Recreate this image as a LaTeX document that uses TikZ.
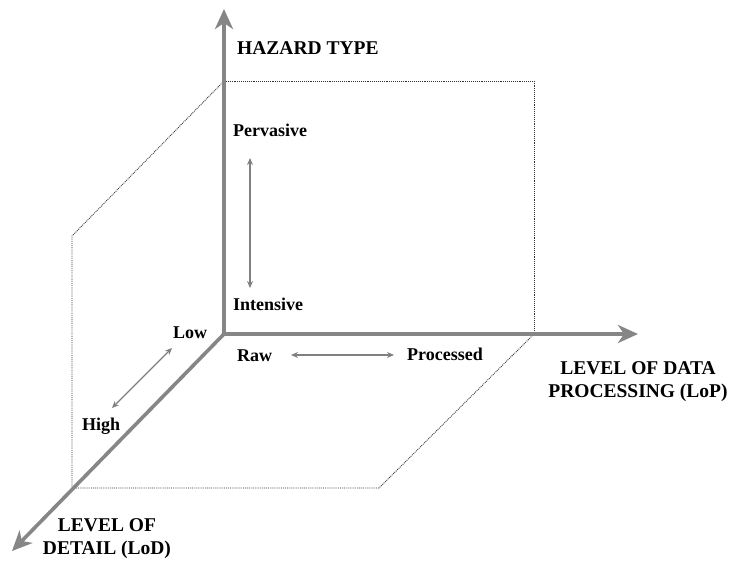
\documentclass[tikz,border=0pt]{standalone}
\usepackage{fontspec}
\setmainfont{Liberation Serif}
\usetikzlibrary{arrows.meta}
\begin{document}
\begin{tikzpicture}[x=1pt,y=-1pt,
  axis/.style={draw=gray!95, line width=3.6pt, -{Stealth[length=20pt,width=18pt,inset=6pt]}},
  guide/.style={draw=black!80, line width=0.9pt, densely dotted},
  dbl/.style={draw=gray, line width=1.1pt, {Stealth[length=7pt,width=6pt]}-{Stealth[length=7pt,width=6pt]}},
  lbl/.style={inner sep=0pt, font=\bfseries\fontsize{18}{21}\selectfont},
  ttl/.style={inner sep=0pt, align=center, font=\bfseries\fontsize{19.5}{23}\selectfont}]
\useasboundingbox (0,0) rectangle (731,565);
% axis points
\coordinate (O) at (224,334);
\coordinate (Ytip) at (224,9);
\coordinate (Xtip) at (638,334);
\coordinate (Ztip) at (12,551);
% dotted planes
\coordinate (A) at (224,81);
\coordinate (B) at (534,81);
\coordinate (C) at (534,334);
\coordinate (D) at (72,236);
\coordinate (E) at (72,488);
\coordinate (F) at (379,488);
\draw[guide] (A) -- (B) -- (C);
\draw[guide] (A) -- (D) -- (E) -- (F) -- (C);
% axes
\draw[axis] (O) -- (Ytip);
\draw[axis] (O) -- (Xtip);
\draw[axis] (O) -- (Ztip);
% labels
\node[ttl, anchor=base west] (hz) at (237,54) {HAZARD TYPE};
\node[lbl, anchor=base west] (perv) at (233,136) {Pervasive};
\node[lbl, anchor=base west] (inten) at (233,310) {Intensive};
\node[lbl, anchor=base west] (low) at (173,338) {Low};
\node[lbl, anchor=base west] (high) at (82,430) {High};
\node[lbl, anchor=base west] (raw) at (237,361) {Raw};
\node[lbl, anchor=base west] (proc) at (407,360) {Processed};
\node[ttl] (lop) at (638,382) {LEVEL OF DATA\\PROCESSING (LoP)};
\node[ttl] (lod) at (107,539) {LEVEL OF\\DETAIL (LoD)};
% double arrows
\coordinate (pv1) at (250,158);
\coordinate (pv2) at (250,288);
\draw[dbl] (pv1) -- (pv2);
\coordinate (rp1) at (291,355);
\coordinate (rp2) at (394,355);
\draw[dbl] (rp1) -- (rp2);
\coordinate (lh1) at (172,348);
\coordinate (lh2) at (112,408);
\draw[dbl] (lh1) -- (lh2);
\end{tikzpicture}
\end{document}
